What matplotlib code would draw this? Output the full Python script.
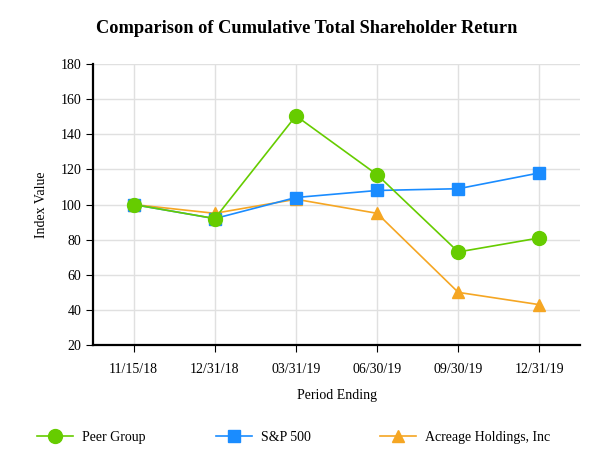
import matplotlib.pyplot as plt
from matplotlib.lines import Line2D

plt.rcParams['font.family'] = ['Liberation Serif', 'DejaVu Serif']

periods = ['11/15/18', '12/31/18', '03/31/19', '06/30/19', '09/30/19', '12/31/19']
peer_group = [100, 92, 150.5, 117, 73, 81]
sp500 = [100, 92, 104, 108, 109, 118]
acreage = [100, 95, 103, 95, 50, 43]

green = '#66cc00'
blue = '#1a8cff'
orange = '#f5a623'

fig = plt.figure(figsize=(6.13, 4.74), dpi=100)
ax = fig.add_axes([0.1517, 0.272, 0.7945, 0.593])

x = range(len(periods))
ax.plot(x, acreage, color=orange, lw=1.2, marker='^', ms=9, zorder=3)
ax.plot(x, sp500, color=blue, lw=1.2, marker='s', ms=9, zorder=4)
ax.plot(x, peer_group, color=green, lw=1.2, marker='o', ms=10, zorder=5)

ax.set_xlim(-0.5, 5.5)
ax.set_ylim(20, 180)
ax.set_yticks(range(20, 181, 20))
ax.set_xticks(list(x))
ax.set_xticklabels(periods)
ax.tick_params(axis='both', labelsize=10, length=5, color='black')
ax.tick_params(axis='x', pad=8)
ax.grid(True, color='#e0e0e0', lw=1)
ax.set_axisbelow(True)
for s in ['top', 'right']:
    ax.spines[s].set_visible(False)
ax.spines['left'].set_linewidth(1.6)
ax.spines['bottom'].set_linewidth(1.6)

ax.set_xlabel('Period Ending', fontsize=10, labelpad=9)
ax.set_ylabel('Index Value', fontsize=10, labelpad=9)
fig.suptitle('Comparison of Cumulative Total Shareholder Return',
             fontsize=13.2, fontweight='bold', y=0.958)

handles = [
    Line2D([], [], color=green, marker='o', ms=10, lw=1.2),
    Line2D([], [], color=blue, marker='s', ms=9, lw=1.2),
    Line2D([], [], color=orange, marker='^', ms=9, lw=1.2),
]
labels = ['Peer Group', 'S&P 500', 'Acreage Holdings, Inc']
lefts = [0.060, 0.352, 0.620]
for h, lab, xl in zip(handles, labels, lefts):
    fig.legend([h], [lab], loc='center left', bbox_to_anchor=(xl, 0.078),
               frameon=False, fontsize=10, handlelength=2.6, handletextpad=0.65,
               borderpad=0, borderaxespad=0)

fig.savefig('out.png', dpi=100)
